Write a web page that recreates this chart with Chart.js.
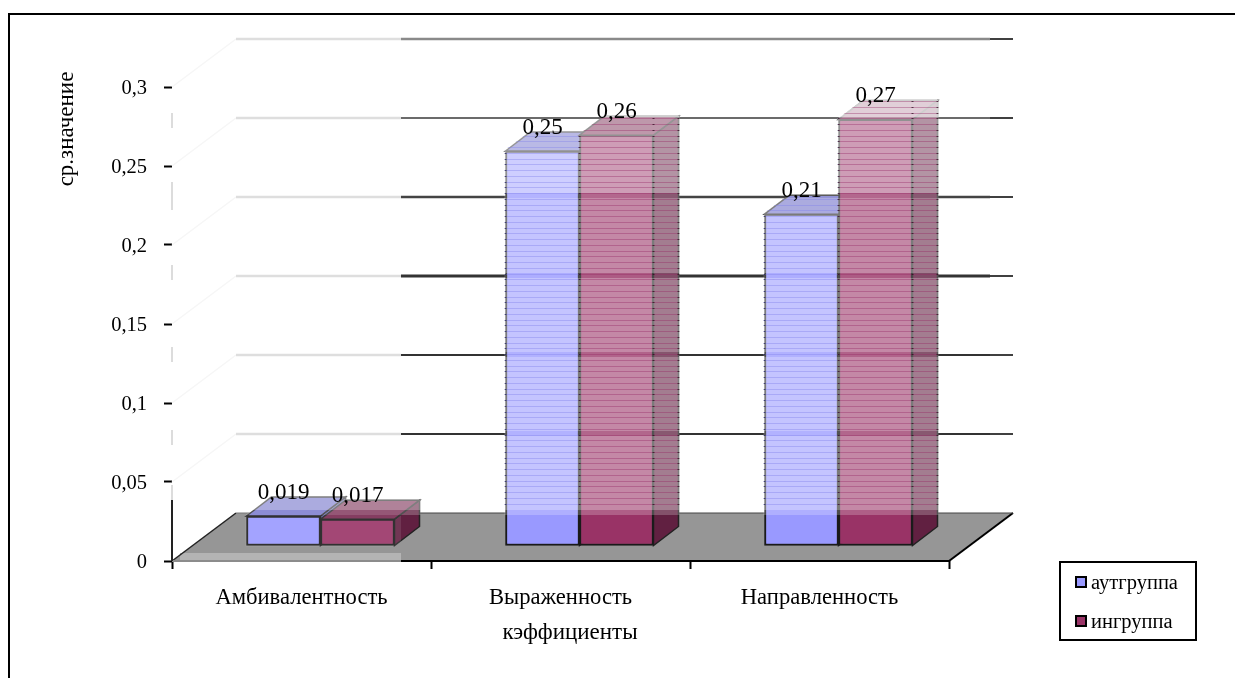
<!DOCTYPE html>
<html>
<head>
<meta charset="utf-8">
<script src="https://cdn.jsdelivr.net/npm/chart.js@4"></script>
<style>
  html, body { margin: 0; padding: 0; background: #fff; }
  #wrap { position: absolute; left: 0; top: 0; width: 1235px; height: 678px; }
</style>
</head>
<body>
<div id="wrap"><canvas id="myChart" width="1235" height="678"></canvas></div>
<script>
const categories = ['Амбивалентность', 'Выраженность', 'Направленность'];
const outgroup = [0.019, 0.25, 0.21];
const ingroup = [0.017, 0.26, 0.27];
const seriesNames = ['аутгруппа', 'ингруппа'];
const valueLabels = [['0,019', '0,25', '0,21'], ['0,017', '0,26', '0,27']];
const yTicks = [0, 0.05, 0.1, 0.15, 0.2, 0.25, 0.3];

const FONT = '"Liberation Serif", "Times New Roman", serif';

// 3d look: wall depth, bar offset from the front edge, bar depth
const WALL = { dx: 64, dy: 48 };
const SHIFT = { dx: 19, dy: 15 };
const DEPTH = { dx: 25, dy: 19 };
const FADE_X = 401; // left of this everything in the original is washed out

const faces = [
  { front: '#9999ff', top: '#6e6ec8', side: '#6464b4', stripe: 'rgba(130,130,235,0.4)', edge: 'rgba(30,30,70,0.7)' },
  { front: '#993366', top: '#782850', side: '#612041', stripe: 'rgba(150,40,100,0.38)', edge: 'rgba(40,10,25,0.7)' },
];

// white veil over the bars by y pixel, [from, to, alpha]
const veilBands = [
  [90, 117, 0.78], [117, 193, 0.52], [193, 198, 0.26], [198, 273, 0.42], [273, 278, 0.2],
  [278, 352, 0.42], [352, 357, 0.24], [357, 431, 0.42], [431, 436, 0.25], [436, 510, 0.42], [510, 515, 0.22],
];
const wallDashes = [[113, 128], [182, 197], [196, 210], [265, 280], [347, 362], [430, 445], [485, 500]];

function line(ctx, x1, y1, x2, y2, color, width) {
  ctx.strokeStyle = color;
  ctx.lineWidth = width;
  ctx.beginPath();
  ctx.moveTo(x1, y1);
  ctx.lineTo(x2, y2);
  ctx.stroke();
}

function poly(ctx, pts, fill, stroke, width) {
  ctx.beginPath();
  pts.forEach((p, i) => (i ? ctx.lineTo(p[0], p[1]) : ctx.moveTo(p[0], p[1])));
  ctx.closePath();
  if (fill) { ctx.fillStyle = fill; ctx.fill(); }
  if (stroke) { ctx.strokeStyle = stroke; ctx.lineWidth = width; ctx.stroke(); }
}

function barBox(bar) {
  const half = bar.width / 2;
  return { l: bar.x - half + SHIFT.dx, r: bar.x + half + SHIFT.dx, t: bar.y - SHIFT.dy, b: bar.base - SHIFT.dy };
}

function outline(ctx, b) {
  const rx = b.r + DEPTH.dx;
  ctx.moveTo(b.l - 1, b.b + 1);
  ctx.lineTo(b.l - 1, b.t - 1);
  ctx.lineTo(b.l + DEPTH.dx, b.t - DEPTH.dy - 1);
  ctx.lineTo(rx + 1, b.t - DEPTH.dy - 1);
  ctx.lineTo(rx + 1, b.b - DEPTH.dy);
  ctx.lineTo(b.r, b.b + 1);
  ctx.closePath();
}

// floor, walls, gridlines and the top and side faces of the bars
const wallsPlugin = {
  id: 'walls',
  beforeDatasetsDraw(chart) {
    const ctx = chart.ctx;
    const xs = chart.scales.x, ys = chart.scales.y;
    const left = xs.left, right = xs.right;
    const y0 = ys.getPixelForValue(0);
    ctx.save();
    const gridLook = { 0.3: ['#8a8a8a', 2.5], 0.25: ['#3a3a3a', 1.5], 0.2: ['#444', 2.5], 0.15: ['#333', 3], 0.1: ['#333', 2], 0.05: ['#333', 2] };
    yTicks.forEach(v => {
      if (!v) return;
      const y = ys.getPixelForValue(v);
      const by = y - WALL.dy;
      line(ctx, left, y, left + WALL.dx, by, '#f6f6f6', 1.5);
      line(ctx, left + WALL.dx, by, FADE_X, by, '#dedede', 2.5);
      line(ctx, FADE_X, by, 990, by, gridLook[v][0], gridLook[v][1]);
      line(ctx, 990, by, right + WALL.dx, by, '#000', 1.5);
    });
    // floor
    poly(ctx, [[left, y0], [left + WALL.dx, y0 - WALL.dy], [right + WALL.dx, y0 - WALL.dy], [right, y0]], '#969696');
    ctx.fillStyle = '#b4b4b4';
    ctx.fillRect(left + 8, y0 - 8, FADE_X - left - 8, 8);
    line(ctx, left, y0, left + WALL.dx, y0 - WALL.dy, '#222', 1.5);
    line(ctx, right, y0, right + WALL.dx, y0 - WALL.dy, '#000', 2);
    line(ctx, left + WALL.dx, y0 - WALL.dy, FADE_X, y0 - WALL.dy, '#777', 1);
    line(ctx, FADE_X, y0 - WALL.dy, right + WALL.dx, y0 - WALL.dy, '#444', 1);
    // axis lines
    line(ctx, left, y0, FADE_X, y0, '#8c8c8c', 2);
    line(ctx, FADE_X, y0, right, y0, '#000', 2);
    line(ctx, left, 500, left, y0, '#222', 2);
    wallDashes.forEach(d => line(ctx, left, d[0], left, d[1], '#dcdcdc', 2));
    // both series first, the library then paints the front faces over them
    chart.data.datasets.forEach((ds, di) => {
      chart.getDatasetMeta(di).data.forEach(bar => {
        const b = barBox(bar);
        const f = faces[di];
        poly(ctx, [[b.r, b.t], [b.r + DEPTH.dx, b.t - DEPTH.dy], [b.r + DEPTH.dx, b.b - DEPTH.dy], [b.r, b.b]], f.side, '#222', 1.5);
        poly(ctx, [[b.l, b.t], [b.l + DEPTH.dx, b.t - DEPTH.dy], [b.r + DEPTH.dx, b.t - DEPTH.dy], [b.r, b.t]], f.top, '#222', 1.5);
      });
    });
    ctx.restore();
  },
  // front faces moved back onto the floor
  beforeDatasetDraw(chart) {
    chart.ctx.save();
    chart.ctx.translate(SHIFT.dx, -SHIFT.dy);
  },
  afterDatasetDraw(chart) {
    chart.ctx.restore();
  },
  afterDatasetsDraw(chart) {
    const ctx = chart.ctx;
    const metas = [chart.getDatasetMeta(0), chart.getDatasetMeta(1)];
    // veil and stripes, once per group of two bars
    categories.forEach((c, i) => {
      const a = barBox(metas[0].data[i]);
      const b = barBox(metas[1].data[i]);
      const rx = b.r + DEPTH.dx;
      const topY = Math.min(a.t, b.t) - DEPTH.dy;
      ctx.save();
      ctx.beginPath();
      outline(ctx, a);
      outline(ctx, b);
      ctx.clip();
      veilBands.forEach(band => {
        ctx.fillStyle = 'rgba(255,255,255,' + band[2] + ')';
        ctx.fillRect(a.l - 2, band[0], rx - a.l + 4, band[1] - band[0]);
      });
      if (a.l < FADE_X) {
        ctx.fillStyle = 'rgba(255,255,255,0.1)';
        ctx.fillRect(a.l - 2, 515, FADE_X - a.l + 2, 35);
      } else {
        // the low group has no stripes
        for (let y = 503.7; y > topY; y -= 5.75) {
          const sy = Math.round(y) + 0.5;
          line(ctx, a.l - 2, sy, a.r, sy, faces[0].stripe, 1);
          line(ctx, a.r, sy, rx + 2, sy, faces[1].stripe, 1);
          line(ctx, a.l - 1, sy, a.l + 1, sy, faces[0].edge, 1);
          line(ctx, a.r - 1, sy, a.r + 1, sy, faces[1].edge, 1);
          line(ctx, b.r - 1, sy, b.r + 1, sy, faces[1].edge, 1);
          line(ctx, rx - 1, sy, rx + 1, sy, faces[1].edge, 1);
        }
      }
      ctx.restore();
    });
    // value labels
    ctx.save();
    ctx.fillStyle = '#000';
    ctx.font = '23px ' + FONT;
    ctx.textAlign = 'center';
    ctx.textBaseline = 'middle';
    metas.forEach((meta, di) => {
      meta.data.forEach((bar, i) => {
        const b = barBox(bar);
        ctx.fillText(valueLabels[di][i], (b.l + b.r) / 2, b.t - 23);
      });
    });
    // axis titles
    ctx.font = '23px ' + FONT;
    ctx.fillText('кэффициенты', 570, 633);
    ctx.save();
    ctx.translate(67, 129);
    ctx.rotate(-Math.PI / 2);
    ctx.fillText('ср.значение', 0, 0);
    ctx.restore();
    // outer frame, runs off the picture on the right and at the bottom
    line(ctx, 9, 14, 1235, 14, '#000', 2);
    line(ctx, 9, 13, 9, 678, '#000', 2);
    // legend
    ctx.fillStyle = '#fff';
    ctx.strokeStyle = '#000';
    ctx.lineWidth = 2;
    ctx.fillRect(1060, 562, 136, 78);
    ctx.strokeRect(1060, 562, 136, 78);
    ctx.textAlign = 'left';
    ctx.font = '20.5px ' + FONT;
    [582, 621].forEach((ly, i) => {
      ctx.fillStyle = faces[i].front;
      ctx.fillRect(1076, ly - 5, 10, 10);
      ctx.strokeRect(1076, ly - 5, 10, 10);
      ctx.fillStyle = '#000';
      ctx.fillText(seriesNames[i], 1091, ly + 2);
    });
    ctx.restore();
  },
};

const config = {
  type: 'bar',
  data: {
    labels: categories,
    datasets: [
      { label: seriesNames[0], data: outgroup, backgroundColor: faces[0].front },
      { label: seriesNames[1], data: ingroup, backgroundColor: faces[1].front },
    ],
  },
  options: {
    responsive: false,
    animation: false,
    devicePixelRatio: 1,
    layout: { padding: { left: 0, top: 87, right: 286, bottom: 0 } },
    datasets: {
      bar: {
        barThickness: 74,
        categoryPercentage: 148 / 259,
        barPercentage: 1,
        borderColor: '#1a1a1a',
        borderWidth: 2,
        borderSkipped: false,
      },
    },
    scales: {
      x: {
        afterFit: s => { s.height = 117; },
        border: { display: false },
        grid: { drawOnChartArea: false, color: '#000', tickColor: '#000', tickLength: 8, tickWidth: 2 },
        ticks: { color: '#000', font: { family: FONT, size: 22.6 }, padding: 16, maxRotation: 0, autoSkip: false },
      },
      y: {
        min: 0,
        max: 0.3,
        afterFit: s => { s.width = 172; },
        afterBuildTicks: s => { s.ticks = yTicks.map(v => ({ value: v })); },
        border: { display: false },
        grid: { drawOnChartArea: false, tickColor: '#000', tickLength: 8, tickWidth: 2 },
        ticks: {
          color: '#000',
          font: { family: FONT, size: 20.5 },
          padding: 17,
          labelOffset: 2,
          callback: v => String(v).replace('.', ','),
        },
      },
    },
    plugins: {
      legend: { display: false },
      tooltip: { enabled: false },
    },
  },
  plugins: [wallsPlugin],
};

const myChart = new Chart(document.getElementById('myChart'), config);
</script>
</body>
</html>
